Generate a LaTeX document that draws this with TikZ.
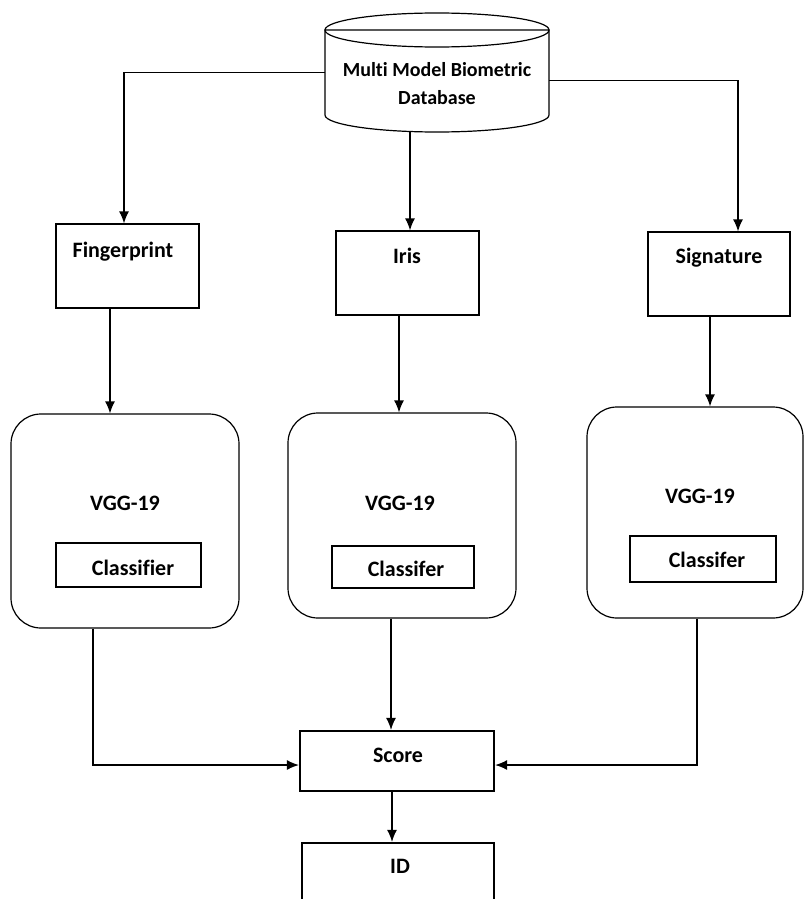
\documentclass[tikz,border=0pt]{standalone}
\usepackage{fontspec}
\setmainfont{Carlito}[Ligatures=NoCommon]
\usetikzlibrary{arrows.meta,calc}
\begin{document}
\begin{tikzpicture}[x=1pt,y=-1pt,
  lbl/.style={anchor=base,inner sep=0pt,font=\bfseries\fontsize{22}{27}\selectfont},
  dblbl/.style={anchor=base,inner sep=0pt,font=\bfseries\fontsize{20}{27}\selectfont},
  thinbox/.style={draw,line width=1.2pt,inner sep=0pt},
  vggbox/.style={draw,line width=1.2pt,rounded corners=30pt,inner sep=0pt},
  thickbox/.style={draw,line width=2.2pt,inner sep=0pt},
  arr/.style={line width=1.4pt,-{Latex[length=12pt,width=10pt]}}]
\useasboundingbox (0,0) rectangle (806,899);
\clip (0,0) rectangle (806,899);
% database cylinder
\node[inner sep=0pt,minimum width=224pt,minimum height=85pt] (db) at (437,72.5) {};
\draw[line width=1.2pt,fill=white] (325,115) -- (325,30) -- (549,30) -- (549,115)
  arc[start angle=360,end angle=180,x radius=112pt,y radius=17pt] -- cycle;
\draw[line width=1.2pt] (437,30) ellipse[x radius=112pt,y radius=17pt];
\node[dblbl] (dbt1) at (437,77) {Multi Model Biometric};
\node[dblbl] (dbt2) at (437,104) {Database};
\coordinate (dbb) at (410,132);
% input boxes
\node[thinbox,minimum width=143pt,minimum height=84pt] (fp) at (127.5,266) {};
\node[thinbox,minimum width=143pt,minimum height=84pt] (iris) at (407.5,273) {};
\node[thinbox,minimum width=142pt,minimum height=84pt] (sig) at (719,274) {};
\node[lbl] (fpt) at (123,257) {Fingerprint};
\node[lbl] (irist) at (407,263) {Iris};
\node[lbl] (sigt) at (719,263) {Signature};
% VGG boxes
\node[vggbox,minimum width=228pt,minimum height=214pt] (v1) at (125,521) {};
\node[vggbox,minimum width=228pt,minimum height=205pt] (v2) at (402,515.5) {};
\node[vggbox,minimum width=216pt,minimum height=211pt] (v3) at (695,512.5) {};
\node[lbl] (v1t) at (125,510) {VGG-19};
\node[lbl] (v2t) at (400,510) {VGG-19};
\node[lbl] (v3t) at (700,503) {VGG-19};
\node[thickbox,minimum width=145pt,minimum height=44pt] (c1) at (128.5,565) {};
\node[thickbox,minimum width=142pt,minimum height=42pt] (c2) at (403,567) {};
\node[thickbox,minimum width=146pt,minimum height=46pt] (c3) at (703,559) {};
\node[lbl] (c1t) at (133,575) {Classifier};
\node[lbl] (c2t) at (406,576) {Classifer};
\node[lbl] (c3t) at (707,567) {Classifer};
% score and id
\node[thickbox,minimum width=194pt,minimum height=60pt] (score) at (397,761) {};
\node[lbl] (scoret) at (398,762) {Score};
\node[thickbox,minimum width=192pt,minimum height=90pt] (id) at (398,888) {};
\node[lbl] (idt) at (400,873) {ID};
% connectors
\draw[arr] (db.west) -| ([xshift=-3.5pt]fp.north);
\draw[arr] ([yshift=-8pt]db.east) -| ([xshift=19pt]sig.north);
\draw[arr] (dbb) -- (dbb |- iris.north);
\draw[arr] ([xshift=-17.5pt]fp.south) -- ([xshift=-17.5pt]fp.south |- v1.north);
\draw[arr] ([xshift=-8.5pt]iris.south) -- ([xshift=-8.5pt]iris.south |- v2.north);
\draw[arr] ([xshift=-9pt]sig.south) -- ([xshift=-9pt]sig.south |- v3.north);
\draw[arr] ([xshift=-32pt]v1.south) |- ([yshift=-4pt]score.west);
\draw[arr] ([xshift=-11pt]v2.south) -- ([xshift=-11pt]v2.south |- score.north);
\draw[arr] ([xshift=2pt]v3.south) |- ([yshift=-4pt]score.east);
\draw[arr] ([xshift=-5pt]score.south) -- ([xshift=-5pt]score.south |- id.north);
\end{tikzpicture}
\end{document}
